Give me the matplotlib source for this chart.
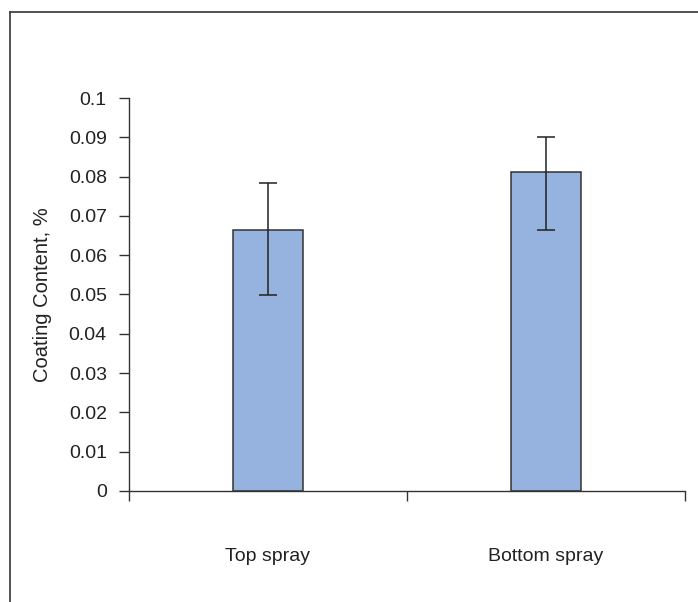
import matplotlib
matplotlib.use("Agg")
import matplotlib.pyplot as plt
from matplotlib.lines import Line2D

plt.rcParams["font.family"] = ["Liberation Sans", "DejaVu Sans"]

# data
categories = ["Top spray", "Bottom spray"]
values = [0.0665, 0.0811]
err_low = [0.0166, 0.0147]
err_high = [0.0119, 0.0091]
y_ticks = [0, 0.01, 0.02, 0.03, 0.04, 0.05, 0.06, 0.07, 0.08, 0.09, 0.1]
y_labels = ["0", "0.01", "0.02", "0.03", "0.04", "0.05", "0.06", "0.07",
            "0.08", "0.09", "0.1"]

fig = plt.figure(figsize=(6.98, 6.02), dpi=100)
ax = fig.add_axes([0.1848, 0.1844, 0.7966, 0.6528])

x = range(len(categories))
ax.bar(x, values, width=0.25, color="#95B3DE", edgecolor="#333333", linewidth=1.1,
       yerr=[err_low, err_high], capsize=6.5,
       error_kw=dict(ecolor="#222222", elinewidth=1.1, capthick=1.1))

ax.set_xlim(-0.5, 1.5)
ax.set_ylim(0, 0.1)
ax.set_yticks(y_ticks)
ax.set_yticklabels(y_labels)
ax.set_xticks(list(x))
ax.set_xticklabels(categories)
ax.set_xticks([-0.5, 0.5, 1.5], minor=True)
ax.tick_params(axis="x", which="major", length=0, pad=41, labelsize=14, colors="#222222")
ax.tick_params(axis="x", which="minor", length=7, width=1, color="#333333")
ax.tick_params(axis="y", length=7, width=1, color="#333333", labelsize=14,
               labelcolor="#222222", pad=9)

for side in ["top", "right"]:
    ax.spines[side].set_visible(False)
for side in ["left", "bottom"]:
    ax.spines[side].set_color("#333333")
    ax.spines[side].set_linewidth(1)

ax.set_ylabel("Coating Content, %", fontsize=14.5, color="#222222", labelpad=12)

# frame lines at top and left of the figure
fig.add_artist(Line2D([9.5 / 698, 9.5 / 698], [0, 1 - 11.5 / 602],
                      transform=fig.transFigure, color="#444444", linewidth=1.3))
fig.add_artist(Line2D([9.5 / 698, 1], [1 - 11.5 / 602, 1 - 11.5 / 602],
                      transform=fig.transFigure, color="#444444", linewidth=1.3))

fig.savefig("out.png", dpi=100)
